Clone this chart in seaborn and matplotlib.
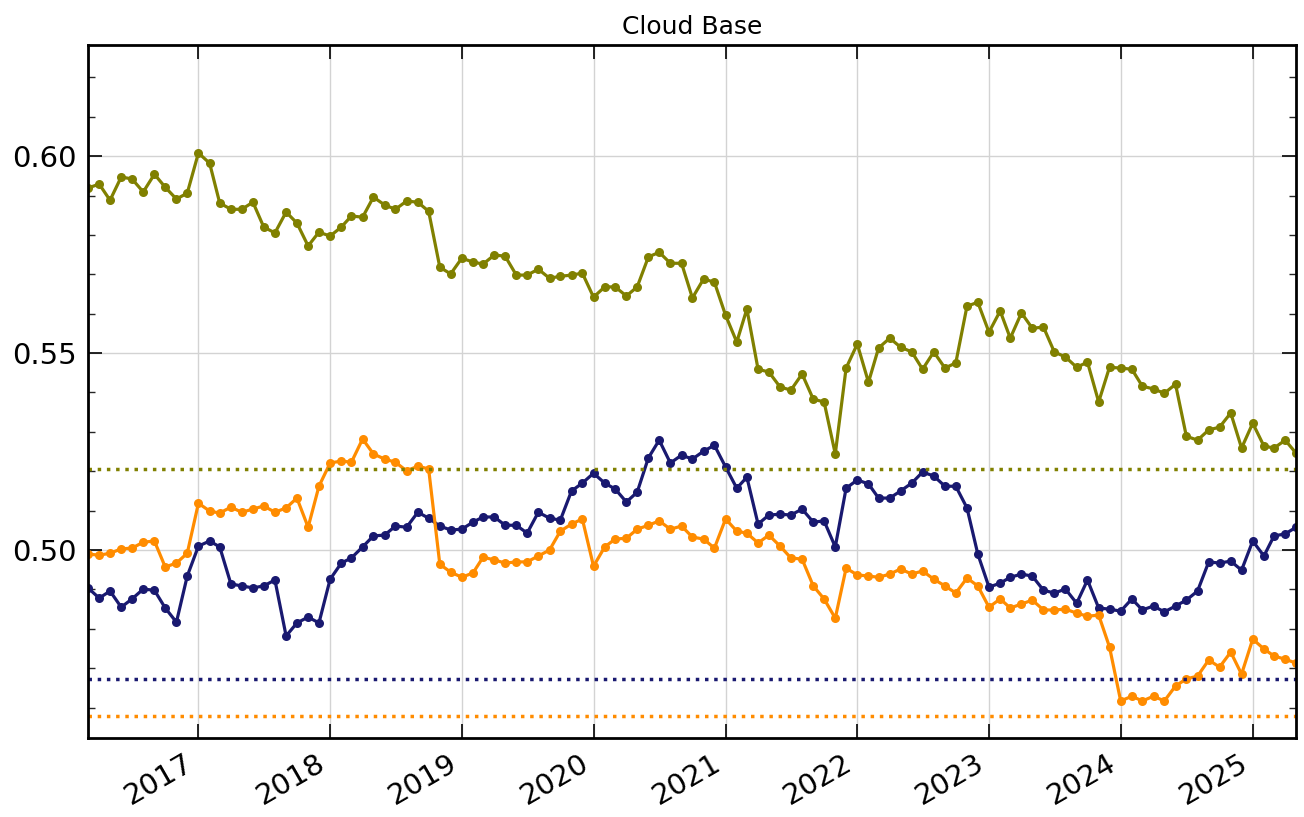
import pandas as pd
import matplotlib
matplotlib.use('Agg')
import matplotlib.pyplot as plt
import matplotlib.dates as mdates
from matplotlib.ticker import MultipleLocator
import seaborn as sns

# Monthly values, Mar 2016 - May 2025
dates = pd.date_range('2016-03-01', periods=111, freq='MS')

olive_vals = [
    0.5919, 0.5929, 0.5888, 0.5947, 0.5942, 0.5909, 0.5954, 0.5921, 0.5891, 0.5906,
    0.6008, 0.5982, 0.5881, 0.5865, 0.5865, 0.5883, 0.5820, 0.5805, 0.5858, 0.5830,
    0.5772, 0.5807, 0.5797, 0.5820, 0.5848, 0.5845, 0.5896, 0.5876, 0.5865, 0.5886,
    0.5883, 0.5860, 0.5718, 0.5701, 0.5741, 0.5731, 0.5726, 0.5749, 0.5746, 0.5698,
    0.5698, 0.5713, 0.5690, 0.5695, 0.5698, 0.5703, 0.5642, 0.5668, 0.5668, 0.5645,
    0.5668, 0.5744, 0.5756, 0.5728, 0.5728, 0.5640, 0.5688, 0.5680, 0.5596, 0.5528,
    0.5612, 0.5459, 0.5452, 0.5414, 0.5406, 0.5447, 0.5383, 0.5376, 0.5244, 0.5462,
    0.5523, 0.5426, 0.5513, 0.5538, 0.5515, 0.5503, 0.5459, 0.5503, 0.5462, 0.5475,
    0.5619, 0.5629, 0.5553, 0.5607, 0.5538, 0.5602, 0.5563, 0.5566, 0.5503, 0.5490,
    0.5464, 0.5477, 0.5376, 0.5464, 0.5462, 0.5459, 0.5416, 0.5409, 0.5398, 0.5421,
    0.5289, 0.5279, 0.5305, 0.5312, 0.5348, 0.5259, 0.5322, 0.5264, 0.5259, 0.5279,
    0.5246,
]

navy_vals = [
    0.4904, 0.4878, 0.4896, 0.4855, 0.4876, 0.4901, 0.4898, 0.4853, 0.4817, 0.4934,
    0.5010, 0.5023, 0.5008, 0.4914, 0.4909, 0.4904, 0.4909, 0.4924, 0.4782, 0.4815,
    0.4830, 0.4815, 0.4926, 0.4967, 0.4980, 0.5008, 0.5036, 0.5038, 0.5061, 0.5058,
    0.5096, 0.5081, 0.5061, 0.5051, 0.5053, 0.5071, 0.5084, 0.5084, 0.5063, 0.5063,
    0.5043, 0.5096, 0.5081, 0.5076, 0.5150, 0.5170, 0.5195, 0.5170, 0.5155, 0.5122,
    0.5147, 0.5234, 0.5279, 0.5221, 0.5241, 0.5231, 0.5251, 0.5266, 0.5211, 0.5157,
    0.5185, 0.5066, 0.5089, 0.5091, 0.5089, 0.5104, 0.5071, 0.5074, 0.5008, 0.5157,
    0.5178, 0.5168, 0.5132, 0.5132, 0.5150, 0.5170, 0.5198, 0.5188, 0.5162, 0.5162,
    0.5107, 0.4990, 0.4906, 0.4916, 0.4931, 0.4939, 0.4934, 0.4898, 0.4891, 0.4901,
    0.4865, 0.4924, 0.4853, 0.4850, 0.4845, 0.4876, 0.4848, 0.4858, 0.4843, 0.4858,
    0.4873, 0.4896, 0.4970, 0.4967, 0.4972, 0.4949, 0.5023, 0.4985, 0.5036, 0.5041,
    0.5058,
]

orange_vals = [
    0.4990, 0.4987, 0.4992, 0.5003, 0.5005, 0.5020, 0.5023, 0.4957, 0.4967, 0.4992,
    0.5119, 0.5099, 0.5094, 0.5109, 0.5096, 0.5104, 0.5112, 0.5096, 0.5107, 0.5132,
    0.5058, 0.5162, 0.5221, 0.5226, 0.5223, 0.5282, 0.5244, 0.5231, 0.5223, 0.5201,
    0.5213, 0.5206, 0.4964, 0.4944, 0.4931, 0.4942, 0.4982, 0.4975, 0.4967, 0.4970,
    0.4970, 0.4985, 0.5000, 0.5048, 0.5066, 0.5079, 0.4959, 0.5008, 0.5028, 0.5030,
    0.5053, 0.5063, 0.5074, 0.5053, 0.5061, 0.5033, 0.5028, 0.5005, 0.5079, 0.5048,
    0.5043, 0.5018, 0.5038, 0.5010, 0.4980, 0.4977, 0.4909, 0.4876, 0.4827, 0.4954,
    0.4937, 0.4934, 0.4931, 0.4939, 0.4952, 0.4939, 0.4947, 0.4926, 0.4909, 0.4891,
    0.4929, 0.4909, 0.4855, 0.4876, 0.4853, 0.4863, 0.4873, 0.4848, 0.4848, 0.4850,
    0.4840, 0.4832, 0.4835, 0.4754, 0.4617, 0.4629, 0.4617, 0.4629, 0.4617, 0.4655,
    0.4673, 0.4680, 0.4721, 0.4703, 0.4741, 0.4685, 0.4774, 0.4749, 0.4731, 0.4723,
    0.4713,
]

# Reference levels (dotted)
olive_ref = 0.5206
navy_ref = 0.4673
orange_ref = 0.4579

colors = {'olive': '#808000', 'navy': '#191970', 'orange': '#ff8c00'}

sns.set_style('whitegrid')
plt.rcParams['font.family'] = ['DejaVu Sans']

fig = plt.figure(figsize=(13.04, 8.17), dpi=100)
ax = fig.add_axes([0.0675, 0.0967, 0.9264, 0.8482])

for vals, key in [(olive_vals, 'olive'), (navy_vals, 'navy'), (orange_vals, 'orange')]:
    sns.lineplot(x=dates, y=vals, ax=ax, color=colors[key], marker='o',
                 markersize=6.5, markeredgewidth=0, linewidth=2.3)

ax.axhline(olive_ref, color=colors['olive'], linestyle=':', linewidth=2.5)
ax.axhline(navy_ref, color=colors['navy'], linestyle=':', linewidth=2.5)
ax.axhline(orange_ref, color=colors['orange'], linestyle=':', linewidth=2.5)

ax.set_xlim(pd.Timestamp('2016-03-01'), dates[-1])
ax.set_ylim(0.4523, 0.6282)
ax.set_title('Cloud Base', fontsize=18, color='black', pad=8)
ax.set_xlabel('')
ax.set_ylabel('')

ax.xaxis.set_major_locator(mdates.YearLocator())
ax.xaxis.set_major_formatter(mdates.DateFormatter('%Y'))
ax.yaxis.set_major_locator(MultipleLocator(0.05))
ax.yaxis.set_minor_locator(MultipleLocator(0.01))
ax.yaxis.set_major_formatter(plt.FormatStrFormatter('%.2f'))

ax.grid(True, which='major', color='#d3d3d3', linewidth=1)
ax.grid(False, which='minor')
ax.tick_params(axis='both', which='major', direction='in', length=10, width=1.2,
               labelsize=21, pad=8, top=True, right=True, left=True, bottom=True,
               colors='black')
ax.tick_params(axis='y', which='minor', direction='in', length=5, width=1,
               left=True, right=True)
plt.setp(ax.get_xticklabels(), rotation=30, ha='right')

for s in ax.spines.values():
    s.set_color('black')
    s.set_linewidth(2)

fig.savefig('out.png', dpi=100)
